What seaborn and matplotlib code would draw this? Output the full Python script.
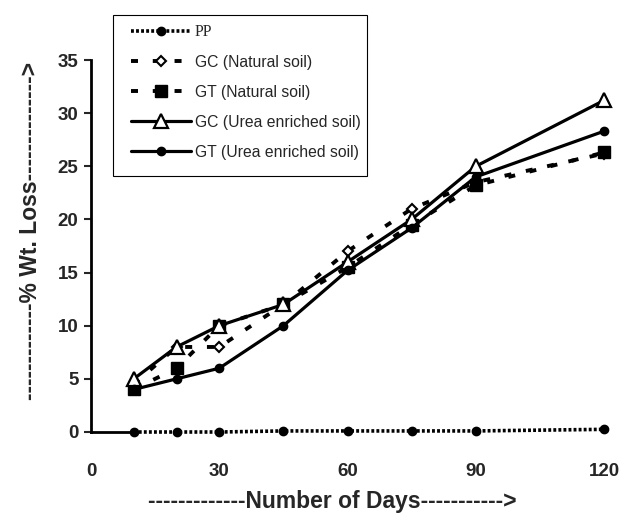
import matplotlib
matplotlib.use("Agg")
import matplotlib.pyplot as plt
from matplotlib.patches import Rectangle
import seaborn as sns
import pandas as pd

# ---- data ----
days = [10, 20, 30, 45, 60, 75, 90, 120]
pp = [0.0, 0.0, 0.0, 0.1, 0.1, 0.1, 0.1, 0.25]
gc_natural = [4.5, 8.0, 8.0, 12.0, 17.0, 21.0, 23.5, 26.2]
gt_natural = [4.0, 6.0, 10.0, 12.0, 15.5, 19.5, 23.2, 26.3]
gc_urea = [5.0, 8.0, 10.0, 12.0, 16.0, 20.0, 25.0, 31.2]
gt_urea = [4.0, 5.0, 6.0, 10.0, 15.2, 19.2, 24.0, 28.3]

labels = ["PP", "GC (Natural soil)", "GT (Natural soil)",
          "GC (Urea enriched soil)", "GT (Urea enriched soil)"]
x_ticks = [0, 30, 60, 90, 120]
y_ticks = [0, 5, 10, 15, 20, 25, 30, 35]

sns.set_style("white")
plt.rcParams["font.family"] = ["Liberation Sans", "DejaVu Sans"]

W, H = 623, 515
fig = plt.figure(figsize=(W / 100, H / 100), dpi=100)
ax = fig.add_axes([91 / W, 1 - 432 / H, (604 - 91) / W, (432 - 60) / H])

styles = [
    (pp, dict(linestyle=(0, (0.8, 0.6)), marker="o", markersize=6,
              markerfacecolor="black", lw=2.6)),
    (gc_natural, dict(linestyle=(0, (1.8, 3.8)), marker="D", markersize=5,
                      markerfacecolor="white", markeredgewidth=1.5, lw=2.8)),
    (gt_natural, dict(linestyle=(0, (1.8, 3.8)), marker="s", markersize=8,
                      markerfacecolor="black", lw=2.8)),
    (gc_urea, dict(linestyle="-", marker="^", markersize=10,
                   markerfacecolor="white", markeredgewidth=1.6, lw=2.3)),
    (gt_urea, dict(linestyle="-", marker="o", markersize=6,
                   markerfacecolor="black", lw=2.3)),
]

for (vals, kw), lab in zip(styles, labels):
    df = pd.DataFrame({"day": days, "loss": vals})
    kw.setdefault("markeredgewidth", 1.0)
    sns.lineplot(data=df, x="day", y="loss", ax=ax, color="black",
                 markeredgecolor="black", label=lab, clip_on=False,
                 zorder=3, **kw)

ax.set_xlim(0, 120)
ax.set_ylim(0, 35)
ax.set_xticks(x_ticks)
ax.set_yticks(y_ticks)
ax.set_xticklabels([str(t) for t in x_ticks], fontweight="bold", fontsize=13.5)
ax.set_yticklabels([str(t) for t in y_ticks], fontweight="bold", fontsize=13.5)
ax.tick_params(axis="x", length=0, pad=22)
ax.tick_params(axis="y", direction="out", length=5, width=1.5, pad=4, left=True)

for s in ["top", "right"]:
    ax.spines[s].set_visible(False)
ax.spines["left"].set_linewidth(2.0)
ax.spines["left"].set_color("black")
ax.spines["bottom"].set_linewidth(2.0)
ax.spines["bottom"].set_color("black")
ax.spines["bottom"].set_bounds(0, 10)

ax.set_xlabel("-" * 13 + "Number of Days" + "-" * 11 + ">",
              fontweight="bold", fontsize=16.5)
ax.set_ylabel("-" * 13 + "% Wt. Loss" + "-" * 14 + ">",
              fontweight="bold", fontsize=16.5)
ax.xaxis.set_label_coords((332 - 91) / 513, (432 - 490) / 372)
ax.yaxis.set_label_coords((42 - 91) / 513, (432 - 231) / 372)

leg = ax.legend(loc="upper left", bbox_to_anchor=(131 / W, 1 - 24 / H),
                bbox_transform=fig.transFigure, borderaxespad=0,
                borderpad=0, frameon=False, fontsize=11.3, handlelength=3.8,
                labelspacing=0.95, handletextpad=0.25)
leg.get_texts()[0].set_family(["Liberation Serif", "DejaVu Serif"])
fig.patches.append(Rectangle((113 / W, 1 - 176 / H), (367 - 113) / W,
                             (176 - 15) / H, transform=fig.transFigure,
                             fill=False, edgecolor="black", lw=0.8))

fig.savefig("out.png", dpi=100)
